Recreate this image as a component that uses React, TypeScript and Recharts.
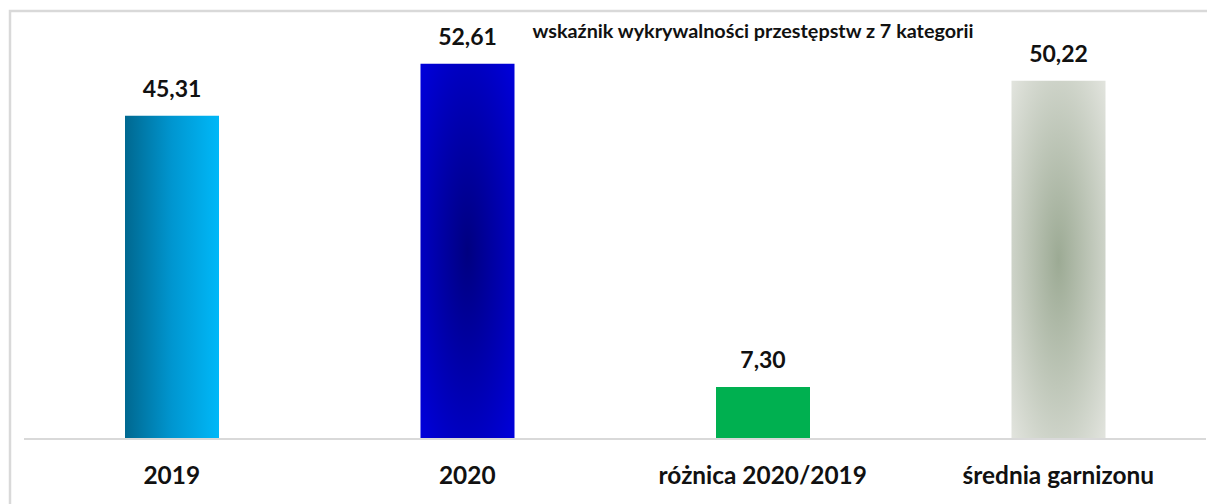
import React from "react";
import { BarChart, Bar, XAxis, YAxis, Cell, LabelList } from "recharts";

const categories = ["2019", "2020", "różnica 2020/2019", "średnia garnizonu"];
const values = [45.31, 52.61, 7.3, 50.22];
const fills = ["url(#grad2019)", "url(#grad2020)", "#00b050", "url(#gradAvg)"];
const title = "wskaźnik wykrywalności przestępstw z 7 kategorii";

const data = categories.map((name, i) => ({ name, value: values[i] }));

const FONT = "Lato, 'Open Sans', sans-serif";

const fmt = (v: number) => v.toFixed(2).replace(".", ",");

const Tick = (props: any) => {
  const { x, y, payload } = props;
  return (
    <text x={x} y={y + 45} textAnchor="middle" fontFamily={FONT} fontWeight={700} fontSize={24.4} fill="#111">
      {payload.value}
    </text>
  );
};

const ValueLabel = (props: any) => {
  const { x, y, width, value } = props;
  return (
    <text x={x + width / 2} y={y - 18.5} textAnchor="middle" fontFamily={FONT} fontWeight={700} fontSize={23} fill="#111">
      {fmt(value)}
    </text>
  );
};

export default function App() {
  return (
    <div style={{ position: "absolute", left: 0, top: 0, width: 1207, height: 504, overflow: "hidden", background: "#fff" }}>
      <svg width={1207} height={504} style={{ position: "absolute", left: 0, top: 0 }}>
        <rect x={10} y={11} width={1260} height={560} fill="none" stroke="#d9d9d9" strokeWidth={2.5} />
        <text x={753} y={38} textAnchor="middle" fontFamily={FONT} fontWeight={700} fontSize={19.8} fill="#111">
          {title}
        </text>
      </svg>
      <div style={{ position: "absolute", left: 0, top: 0 }}>
        <BarChart width={1207} height={504} data={data} margin={{ top: 11, right: 1, bottom: 0, left: 24 }}>
          <defs>
            <linearGradient id="grad2019" x1="0" y1="0" x2="1" y2="0">
              <stop offset="0%" stopColor="#006890" />
              <stop offset="50%" stopColor="#0096d0" />
              <stop offset="100%" stopColor="#00b8f8" />
            </linearGradient>
            <radialGradient id="grad2020" cx="0.5" cy="0.5" r="0.707">
              <stop offset="0%" stopColor="#000080" />
              <stop offset="100%" stopColor="#0000dc" />
            </radialGradient>
            <radialGradient id="gradAvg" cx="0.5" cy="0.5" r="0.707">
              <stop offset="0%" stopColor="#9caa94" />
              <stop offset="100%" stopColor="#e2e4de" />
            </radialGradient>
          </defs>
          <XAxis
            dataKey="name"
            axisLine={{ stroke: "#d9d9d9", strokeWidth: 2 }}
            tickLine={false}
            tickSize={0}
            tickMargin={0}
            height={65}
            interval={0}
            tick={<Tick />}
          />
          <YAxis hide domain={[0, 60]} />
          <Bar dataKey="value" barSize={94} isAnimationActive={false}>
            {data.map((d, i) => (
              <Cell key={d.name} fill={fills[i]} />
            ))}
            <LabelList dataKey="value" content={<ValueLabel />} />
          </Bar>
        </BarChart>
      </div>
    </div>
  );
}
